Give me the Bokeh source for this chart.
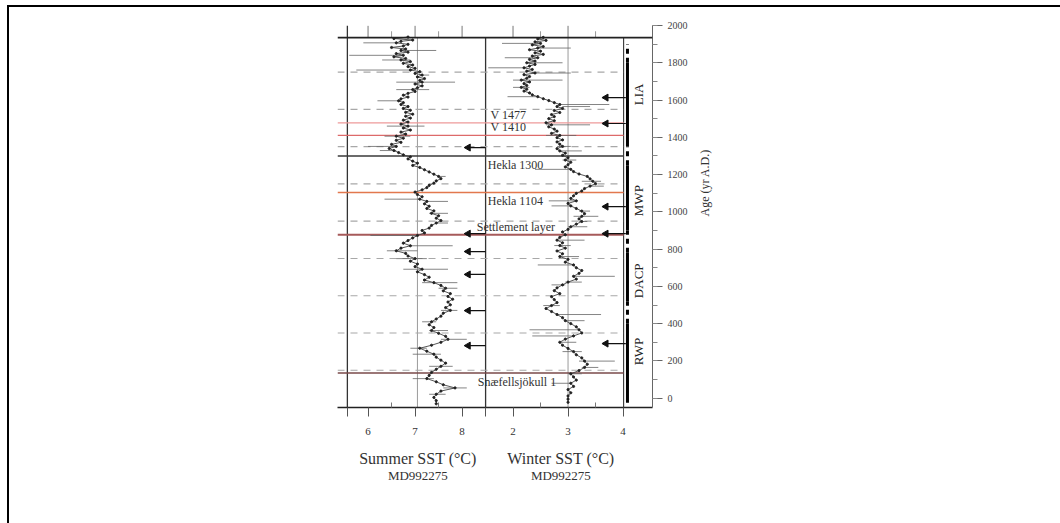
import math
from bokeh.plotting import figure
from bokeh.layouts import column, row
from bokeh.models import Range1d, FixedTicker, SingleIntervalTicker, Span, Spacer
from bokeh.core.properties import value
from bokeh.embed import file_html
from bokeh.resources import INLINE

SERIF = "Liberation Serif"

# ---------------- data ----------------
s_age = [1938, 1930, 1922, 1915, 1907, 1899, 1890, 1882, 1874, 1866,
         1857, 1849, 1840, 1832, 1823, 1815, 1806, 1797, 1788, 1779,
         1770, 1761, 1752, 1743, 1734, 1724, 1715, 1705, 1696, 1686,
         1676, 1666, 1656, 1646, 1636, 1626, 1616, 1606, 1596, 1586,
         1576, 1565, 1555, 1545, 1534, 1524, 1513, 1503, 1492, 1482,
         1471, 1460, 1450, 1439, 1428, 1417, 1406, 1395, 1384, 1373,
         1362, 1351, 1340, 1329, 1318, 1306, 1295, 1284, 1272, 1261,
         1249, 1238, 1226, 1214, 1202, 1190, 1178, 1166, 1154, 1142,
         1130, 1118, 1106, 1093, 1081, 1068, 1056, 1043, 1030, 1018,
         1005, 992, 979, 966, 953, 940, 927, 913, 900, 887,
         873, 860, 846, 832, 818, 805, 791, 777, 763, 749,
         735, 720, 706, 692, 678, 663, 649, 634, 620, 605,
         590, 576, 561, 546, 531, 516, 501, 486, 471, 456,
         440, 425, 410, 394, 379, 363, 348, 332, 316, 300,
         284, 268, 252, 236, 220, 204, 188, 171, 155, 138,
         122, 105, 88, 72, 55, 38, 21, 4, -13, -30]
s_sst = [6.85, 6.55, 6.95, 6.70, 6.60, 6.85, 6.75, 6.50, 6.80, 6.70,
         6.85, 6.60, 6.75, 6.55, 6.80, 6.70, 6.90, 6.75, 6.95, 6.85,
         7.00, 6.90, 7.10, 7.00, 7.15, 7.05, 7.20, 7.10, 7.15, 7.00,
         7.15, 7.05, 6.95, 7.00, 6.85, 6.75, 6.85, 6.70, 6.65, 6.75,
         6.70, 6.85, 6.75, 6.90, 6.80, 6.95, 6.80, 6.90, 6.75, 6.85,
         6.70, 6.85, 6.75, 6.90, 6.70, 6.80, 6.60, 6.75, 6.60, 6.70,
         6.50, 6.60, 6.45, 6.55, 6.65, 6.75, 6.90, 6.85, 6.95, 7.05,
         6.95, 7.10, 7.20, 7.30, 7.40, 7.50, 7.55, 7.45, 7.40, 7.30,
         7.25, 7.15, 7.00, 7.05, 7.15, 7.10, 7.25, 7.20, 7.30, 7.25,
         7.40, 7.35, 7.50, 7.45, 7.55, 7.45, 7.35, 7.30, 7.15, 7.20,
         7.05, 6.95, 6.85, 6.75, 6.90, 6.70, 6.60, 6.80, 6.85, 7.00,
         6.90, 7.05, 7.00, 7.15, 7.05, 7.20, 7.30, 7.20, 7.40, 7.55,
         7.65, 7.60, 7.75, 7.70, 7.80, 7.70, 7.75, 7.65, 7.75, 7.60,
         7.55, 7.45, 7.35, 7.30, 7.40, 7.35, 7.50, 7.65, 7.70, 7.55,
         7.35, 7.10, 7.25, 7.40, 7.45, 7.55, 7.65, 7.55, 7.45, 7.35,
         7.30, 7.25, 7.45, 7.60, 7.85, 7.55, 7.45, 7.40, 7.45, 7.45]

s_eb_age = [1907, 1866, 1840, 1815, 1761, 1734, 1696, 1656, 1596, 1460,
            1406, 1351, 1329, 1190, 1068, 1056, 992, 940, 873, 818,
            791, 749, 692, 620, 590, 471, 410, 363, 316, 268,
            236, 171, 105, 55, 21]
s_eb_lo = [5.90, 6.70, 5.60, 6.30, 5.75, 7.10, 6.60, 6.60, 6.20, 6.40,
           6.35, 6.00, 6.25, 7.50, 6.35, 7.25, 7.30, 7.45, 6.05, 6.90,
           6.40, 6.60, 6.75, 7.15, 7.50, 7.55, 7.15, 7.30, 7.55, 6.90,
           6.95, 7.30, 6.95, 7.60, 7.30]
s_eb_hi = [6.60, 7.45, 6.75, 6.90, 6.90, 7.30, 7.85, 7.30, 6.70, 7.20,
           6.90, 6.60, 6.60, 7.65, 7.10, 7.70, 7.70, 7.70, 7.05, 7.80,
           7.05, 7.25, 7.70, 7.90, 7.90, 7.90, 7.45, 7.70, 8.10, 7.25,
           7.55, 7.80, 7.40, 8.10, 7.65]

w_age = [1936, 1928, 1920, 1912, 1904, 1896, 1887, 1879, 1870, 1862,
         1853, 1845, 1836, 1827, 1818, 1809, 1800, 1791, 1782, 1773,
         1764, 1755, 1745, 1736, 1726, 1717, 1707, 1697, 1688, 1678,
         1668, 1658, 1648, 1638, 1628, 1618, 1607, 1597, 1586, 1576,
         1565, 1555, 1544, 1533, 1522, 1511, 1500, 1489, 1478, 1467,
         1456, 1444, 1433, 1421, 1410, 1398, 1386, 1375, 1363, 1351,
         1339, 1327, 1315, 1303, 1290, 1278, 1266, 1253, 1241, 1228,
         1216, 1203, 1190, 1177, 1164, 1151, 1138, 1125, 1112, 1099,
         1086, 1072, 1059, 1045, 1032, 1018, 1004, 990, 976, 962,
         948, 934, 920, 906, 892, 877, 863, 848, 834, 819,
         805, 790, 775, 760, 745, 730, 715, 700, 685, 670,
         654, 639, 623, 608, 592, 577, 561, 545, 529, 513,
         497, 481, 465, 449, 432, 416, 400, 383, 367, 350,
         334, 317, 300, 284, 267, 250, 233, 216, 199, 182,
         165, 148, 131, 114, 97, 80, 63, 46, 29, 12,
         -5, -22]
w_sst = [2.55, 2.45, 2.60, 2.40, 2.50, 2.35, 2.55, 2.45, 2.30, 2.50,
         2.40, 2.55, 2.35, 2.45, 2.30, 2.40, 2.25, 2.40, 2.30, 2.20,
         2.35, 2.25, 2.40, 2.20, 2.30, 2.25, 2.15, 2.30, 2.20, 2.25,
         2.15, 2.25, 2.20, 2.30, 2.35, 2.45, 2.55, 2.65, 2.75, 2.85,
         2.80, 2.90, 2.75, 2.85, 2.70, 2.75, 2.65, 2.75, 2.60, 2.70,
         2.65, 2.75, 2.80, 2.70, 2.85, 2.80, 2.90, 2.80, 2.85, 2.90,
         2.80, 2.85, 2.95, 2.90, 3.00, 2.95, 3.05, 3.00, 2.95, 3.05,
         3.10, 3.20, 3.35, 3.40, 3.45, 3.50, 3.40, 3.30, 3.25, 3.15,
         3.10, 3.05, 3.15, 3.00, 3.05, 3.15, 3.25, 3.30, 3.25, 3.20,
         3.25, 3.15, 3.05, 3.00, 2.90, 2.95, 2.85, 2.80, 2.90, 2.85,
         2.95, 2.80, 2.90, 2.85, 3.00, 2.95, 3.10, 3.15, 3.25, 3.20,
         3.10, 3.15, 3.00, 2.90, 2.80, 2.75, 2.85, 2.70, 2.75, 2.80,
         2.70, 2.60, 2.70, 2.80, 2.90, 2.95, 3.05, 3.15, 3.20, 3.25,
         3.10, 2.95, 2.85, 2.90, 3.00, 3.10, 3.15, 3.25, 3.30, 3.35,
         3.30, 3.20, 3.05, 3.10, 3.15, 3.05, 3.10, 3.00, 3.05, 3.00,
         3.00, 3.00]

w_eb_age = [1904, 1879, 1827, 1800, 1773, 1745, 1707, 1668, 1618, 1576,
            1565, 1467, 1410, 1351, 1327, 1278, 1228, 1164, 1138, 1059,
            1032, 1004, 976, 948, 920, 848, 819, 760, 715, 654,
            623, 608, 497, 449, 416, 367, 334, 300, 250, 199,
            165, 131, 80]
w_eb_lo = [1.80, 2.45, 1.85, 2.25, 1.55, 2.35, 2.00, 2.00, 1.90, 2.85,
           2.90, 2.60, 2.60, 2.80, 2.85, 2.90, 2.40, 3.25, 3.40, 2.65,
           2.70, 3.20, 3.10, 3.20, 3.00, 2.80, 2.75, 2.85, 2.45, 3.10,
           2.95, 2.70, 2.55, 2.80, 2.95, 2.30, 2.35, 2.85, 2.90, 3.20,
           3.25, 3.00, 2.70]
w_eb_hi = [2.50, 3.05, 2.45, 2.90, 2.20, 3.05, 2.90, 2.30, 2.45, 3.75,
           3.40, 3.40, 3.15, 3.05, 3.25, 3.15, 3.05, 3.60, 3.65, 3.15,
           3.05, 3.40, 3.55, 3.35, 3.35, 3.30, 3.05, 3.20, 3.10, 3.85,
           3.25, 2.95, 2.85, 3.60, 3.30, 3.20, 3.10, 3.15, 3.25, 3.85,
           3.55, 3.25, 3.05]

tephra_names = ["V 1477", "V 1410", "Hekla 1300", "Hekla 1104", "Settlement layer", "Snæfellsjökull 1"]
tephra_ages = [1477, 1410, 1300, 1104, 877, 135]
tephra_colors = ["#ee9a9a", "#dd6a6a", "#3a3a3a", "#e2784e", "#a65a5a", "#7a4a4a"]

dashed_ages = [150, 350, 550, 750, 950, 1150, 1350, 1550, 1750]

summer_arrow_ages = [1345, 883, 787, 664, 470, 282]
winter_arrow_ages = [1613, 1474, 1028, 883, 293]

period_names = ["LIA", "MWP", "DACP", "RWP"]
period_start = [1350, 900, 520, -25]
period_end = [1800, 1250, 780, 400]
period_label_age = [1630, 1060, 630, 250]
gap_start = [1800, 1250, 780, 400]
gap_end = [1900, 1350, 900, 520]

summer_ticks = [6, 7, 8]
summer_minor = [6.5, 7.5]
winter_ticks = [2, 3, 4]
winter_minor = [2.5, 3.5]
age_tick_step = 200

axis_titles = ["Summer SST (°C)", "Winter SST (°C)"]
core_name = "MD992275"

# ---------------- layout ----------------
S0, S1 = 5.35, 12.05      # summer axis range over the frame
W0, W1 = -1.19, 4.535     # winter axis range over the frame
Y0, Y1 = -50, 2000
TOP = 1935                # top border line
S_LEFT, S_RIGHT = 5.56, 8.5
W_RIGHT = 4.01
COL_X = 4.08
LBL_X = 4.28

FW, FH = 315, 382
ML, MR = 328, 408
CONTENT_W = ML + FW + MR   # 1051
MAIN_H = 437
TITLE_H = 79


def w2s(w):
    return S0 + (w - W0) / (W1 - W0) * (S1 - S0)


def strip(w, h):
    f = figure(width=w, height=h, output_backend="svg", toolbar_location=None, tools="",
               x_axis_location=None, y_axis_location=None, min_border=0, title=None,
               background_fill_color="#000", border_fill_color="#000",
               styles={"background-color": "#000"})
    f.outline_line_color = None
    f.grid.visible = False
    return f


p = figure(width=CONTENT_W, height=MAIN_H, x_range=Range1d(S0, S1), y_range=Range1d(Y0, Y1),
           output_backend="svg", toolbar_location=None, tools="",
           y_axis_location="right",
           min_border_left=ML, min_border_right=MR, min_border_top=18,
           min_border_bottom=MAIN_H - 18 - FH)
p.extra_x_ranges = {"winter": Range1d(W0, W1)}
p.outline_line_color = None
p.grid.visible = False

# bottom axis (summer + winter ticks on one baseline)
xa = p.xaxis[0]
w_major = [w2s(t) for t in winter_ticks]
edge_ticks = [S_LEFT, S_RIGHT]
xa.ticker = FixedTicker(ticks=summer_ticks + w_major + edge_ticks,
                        minor_ticks=summer_minor + [w2s(t) for t in winter_minor])
overrides = {w: str(t) for w, t in zip(w_major, winter_ticks)}
for e in edge_ticks:
    overrides[e] = ""
xa.major_label_overrides = overrides
xa.major_tick_out = 9
xa.major_tick_in = 0
xa.minor_tick_in = 5
xa.minor_tick_out = 0
xa.axis_line_color = "#222"
xa.axis_line_width = 1.3
xa.major_tick_line_color = "#555"
xa.minor_tick_line_color = "#777"
xa.major_label_text_font = SERIF
xa.major_label_text_font_size = "11px"
xa.major_label_text_color = "#333"
xa.major_label_standoff = 11

ya = p.yaxis[0]
ya.ticker = SingleIntervalTicker(interval=age_tick_step, num_minor_ticks=2)
ya.major_tick_out = 10
ya.major_tick_in = 0
ya.minor_tick_out = 5
ya.minor_tick_in = 0
ya.axis_line_color = "#666"
ya.major_tick_line_color = "#666"
ya.minor_tick_line_color = "#888"
ya.major_label_text_font = SERIF
ya.major_label_text_font_size = "10px"
ya.major_label_text_color = "#444"
ya.major_label_standoff = 5
ya.axis_label = "Age (yr A.D.)"
ya.axis_label_text_font = SERIF
ya.axis_label_text_font_style = "normal"
ya.axis_label_text_font_size = "12px"
ya.axis_label_text_color = "#333"
ya.axis_label_standoff = 14
if "axis_label_orientation" in ya.properties():
    ya.axis_label_orientation = math.pi / 2

# frame lines
p.add_layout(Span(location=TOP, dimension="width", line_color="#222", line_width=1.6))
p.segment(x0=[S_LEFT, S_RIGHT], y0=[Y0, Y0], x1=[S_LEFT, S_RIGHT], y1=[Y1, TOP],
          line_color="#333", line_width=1.3)
p.segment(x0=[W_RIGHT], y0=[Y0], x1=[W_RIGHT], y1=[TOP], line_color="#333", line_width=1.1,
          x_range_name="winter")
# top ticks
tick_len_major = 64
tick_len_minor = 34
p.segment(x0=summer_ticks, y0=[TOP] * 3, x1=summer_ticks, y1=[TOP + tick_len_major] * 3,
          line_color="#777", line_width=1)
p.segment(x0=summer_minor, y0=[TOP] * 2, x1=summer_minor, y1=[TOP + tick_len_minor] * 2,
          line_color="#999", line_width=1)
p.segment(x0=winter_ticks[:2], y0=[TOP] * 2, x1=winter_ticks[:2], y1=[TOP + tick_len_major] * 2,
          line_color="#777", line_width=1, x_range_name="winter")
p.segment(x0=winter_minor, y0=[TOP] * 2, x1=winter_minor, y1=[TOP + tick_len_minor] * 2,
          line_color="#999", line_width=1, x_range_name="winter")

# reference verticals
p.segment(x0=[7.05], y0=[Y0], x1=[7.05], y1=[TOP], line_color="#9a9a9a", line_width=1)
p.segment(x0=[3.0], y0=[Y0], x1=[3.0], y1=[TOP], line_color="#9a9a9a", line_width=1,
          x_range_name="winter")

# dashed lines
n = len(dashed_ages)
p.segment(x0=[W0] * n, y0=dashed_ages, x1=[W_RIGHT] * n, y1=dashed_ages,
          line_color="#a8a8a8", line_width=1.1, line_dash="7 6", x_range_name="winter")

# tephra lines
widths = [1.3, 1.3, 1.6, 1.6, 2.2, 1.6]
for a, c, lw in zip(tephra_ages, tephra_colors, widths):
    p.segment(x0=[W0], y0=[a], x1=[W_RIGHT], y1=[a], line_color=c, line_width=lw,
              x_range_name="winter")

# error bars
p.segment(x0=s_eb_lo, y0=s_eb_age, x1=s_eb_hi, y1=s_eb_age, line_color="#666", line_width=0.8)
p.segment(x0=w_eb_lo, y0=w_eb_age, x1=w_eb_hi, y1=w_eb_age, line_color="#666", line_width=0.8,
          x_range_name="winter")

# data
p.line(s_sst, s_age, line_color="#444", line_width=0.9)
p.scatter(s_sst, s_age, size=2.2, color="#222")
p.line(w_sst, w_age, line_color="#444", line_width=0.9, x_range_name="winter")
p.scatter(w_sst, w_age, size=2.2, color="#222", x_range_name="winter")

# arrows
na = len(summer_arrow_ages)
p.segment(x0=[8.13] * na, y0=summer_arrow_ages, x1=[S_RIGHT] * na, y1=summer_arrow_ages,
          line_color="#111", line_width=1.2)
p.scatter([8.13] * na, summer_arrow_ages, marker="triangle", size=7, angle=math.pi / 2,
          color="#111")
nw = len(winter_arrow_ages)
p.segment(x0=[3.69] * nw, y0=winter_arrow_ages, x1=[4.05] * nw, y1=winter_arrow_ages,
          line_color="#111", line_width=1.2, x_range_name="winter")
p.scatter([3.69] * nw, winter_arrow_ages, marker="triangle", size=7, angle=math.pi / 2,
          color="#111", x_range_name="winter")

# period column
npd = len(period_names)
p.segment(x0=[COL_X] * npd, y0=period_start, x1=[COL_X] * npd, y1=period_end,
          line_color="#000", line_width=3, x_range_name="winter")
p.segment(x0=[COL_X] * npd, y0=gap_start, x1=[COL_X] * npd, y1=gap_end,
          line_color="#000", line_width=3, line_dash="5 4", x_range_name="winter")
p.text(x=[LBL_X] * npd, y=period_label_age, text=period_names, angle=math.pi / 2,
       text_align="center", text_baseline="middle", text_font=value(SERIF),
       text_font_size="13px", text_color="#222", x_range_name="winter")

# tephra labels
lbl_x = [1.59, 1.59, 1.54, 1.54, 1.34, 1.36]
above = [True, True, False, False, True, False]
for name, a, lx, ab in zip(tephra_names, tephra_ages, lbl_x, above):
    p.text(x=[lx], y=[a], text=[name], text_align="left",
           text_baseline="bottom" if ab else "top", y_offset=-1 if ab else 2,
           text_font=value(SERIF), text_font_size="12px", text_color="#333",
           x_range_name="winter")

# axis titles in a strip figure below, sharing the x scales
t = figure(width=CONTENT_W, height=TITLE_H, x_range=p.x_range, y_range=Range1d(TITLE_H, 0),
           output_backend="svg", toolbar_location=None, tools="",
           x_axis_location=None, y_axis_location=None,
           min_border_left=ML, min_border_right=MR, min_border_top=0, min_border_bottom=0)
t.extra_x_ranges = {"winter": p.extra_x_ranges["winter"]}
t.outline_line_color = None
t.grid.visible = False
t.text(x=[7.06], y=[14], text=[axis_titles[0]], text_align="center", text_baseline="middle",
       text_font=value(SERIF), text_font_size="16px", text_color="#333")
t.text(x=[7.06], y=[31], text=[core_name], text_align="center", text_baseline="middle",
       text_font=value(SERIF), text_font_size="13px", text_color="#333")
t.text(x=[2.87], y=[14], text=[axis_titles[1]], text_align="center", text_baseline="middle",
       text_font=value(SERIF), text_font_size="16px", text_color="#333", x_range_name="winter")
t.text(x=[2.87], y=[31], text=[core_name], text_align="center", text_baseline="middle",
       text_font=value(SERIF), text_font_size="13px", text_color="#333", x_range_name="winter")

layout = column(
    Spacer(width=1060, height=5),
    row(Spacer(width=7, height=518),
        column(strip(CONTENT_W + 2, 2),
               row(strip(2, MAIN_H + TITLE_H), column(p, t)))),
)

open("out.html", "w").write(file_html(layout, INLINE))
